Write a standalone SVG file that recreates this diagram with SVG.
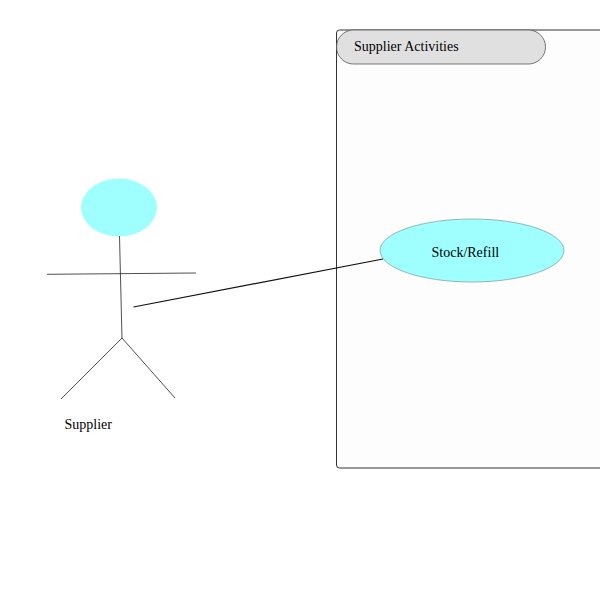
<svg xmlns="http://www.w3.org/2000/svg" width="600" height="600" viewBox="0 0 600 600">
<style>
text{font-family:"Liberation Serif","Times New Roman",serif;font-size:14px;fill:#000}
.limb{fill:none;stroke:#222;stroke-width:0.8}
.use{fill:#9fffff;stroke:#7a9a9a;stroke-width:0.7}
</style>
<rect width="600" height="600" fill="#fff"/>
<g id="boundary">
<rect x="336.500" y="30" width="300" height="438" rx="3" ry="3" fill="#fdfdfd" stroke="#333" stroke-width="1"/>
<rect x="336.500" y="30" width="209" height="34" rx="17" ry="17" fill="#e0e0e0" stroke="#444" stroke-width="0.7"/>
<text x="354" y="51">Supplier Activities</text>
</g>
<g id="actor-supplier">
<ellipse cx="119" cy="207.500" rx="38" ry="29" fill="#9fffff"/>
<path class="limb" d="M119.500 236L122 339M47 274.300L196 273M122 338L61 399M122 338L175 398"/>
<text x="64.500" y="429">Supplier</text>
</g>
<g id="usecase-stock">
<ellipse class="use" cx="472" cy="250.500" rx="92" ry="31.500"/>
<text x="431.500" y="257">Stock/Refill</text>
</g>
<g id="connectors">
<line x1="133.500" y1="307" x2="383" y2="259" stroke="#111" stroke-width="1.200"/>
</g>
</svg>
